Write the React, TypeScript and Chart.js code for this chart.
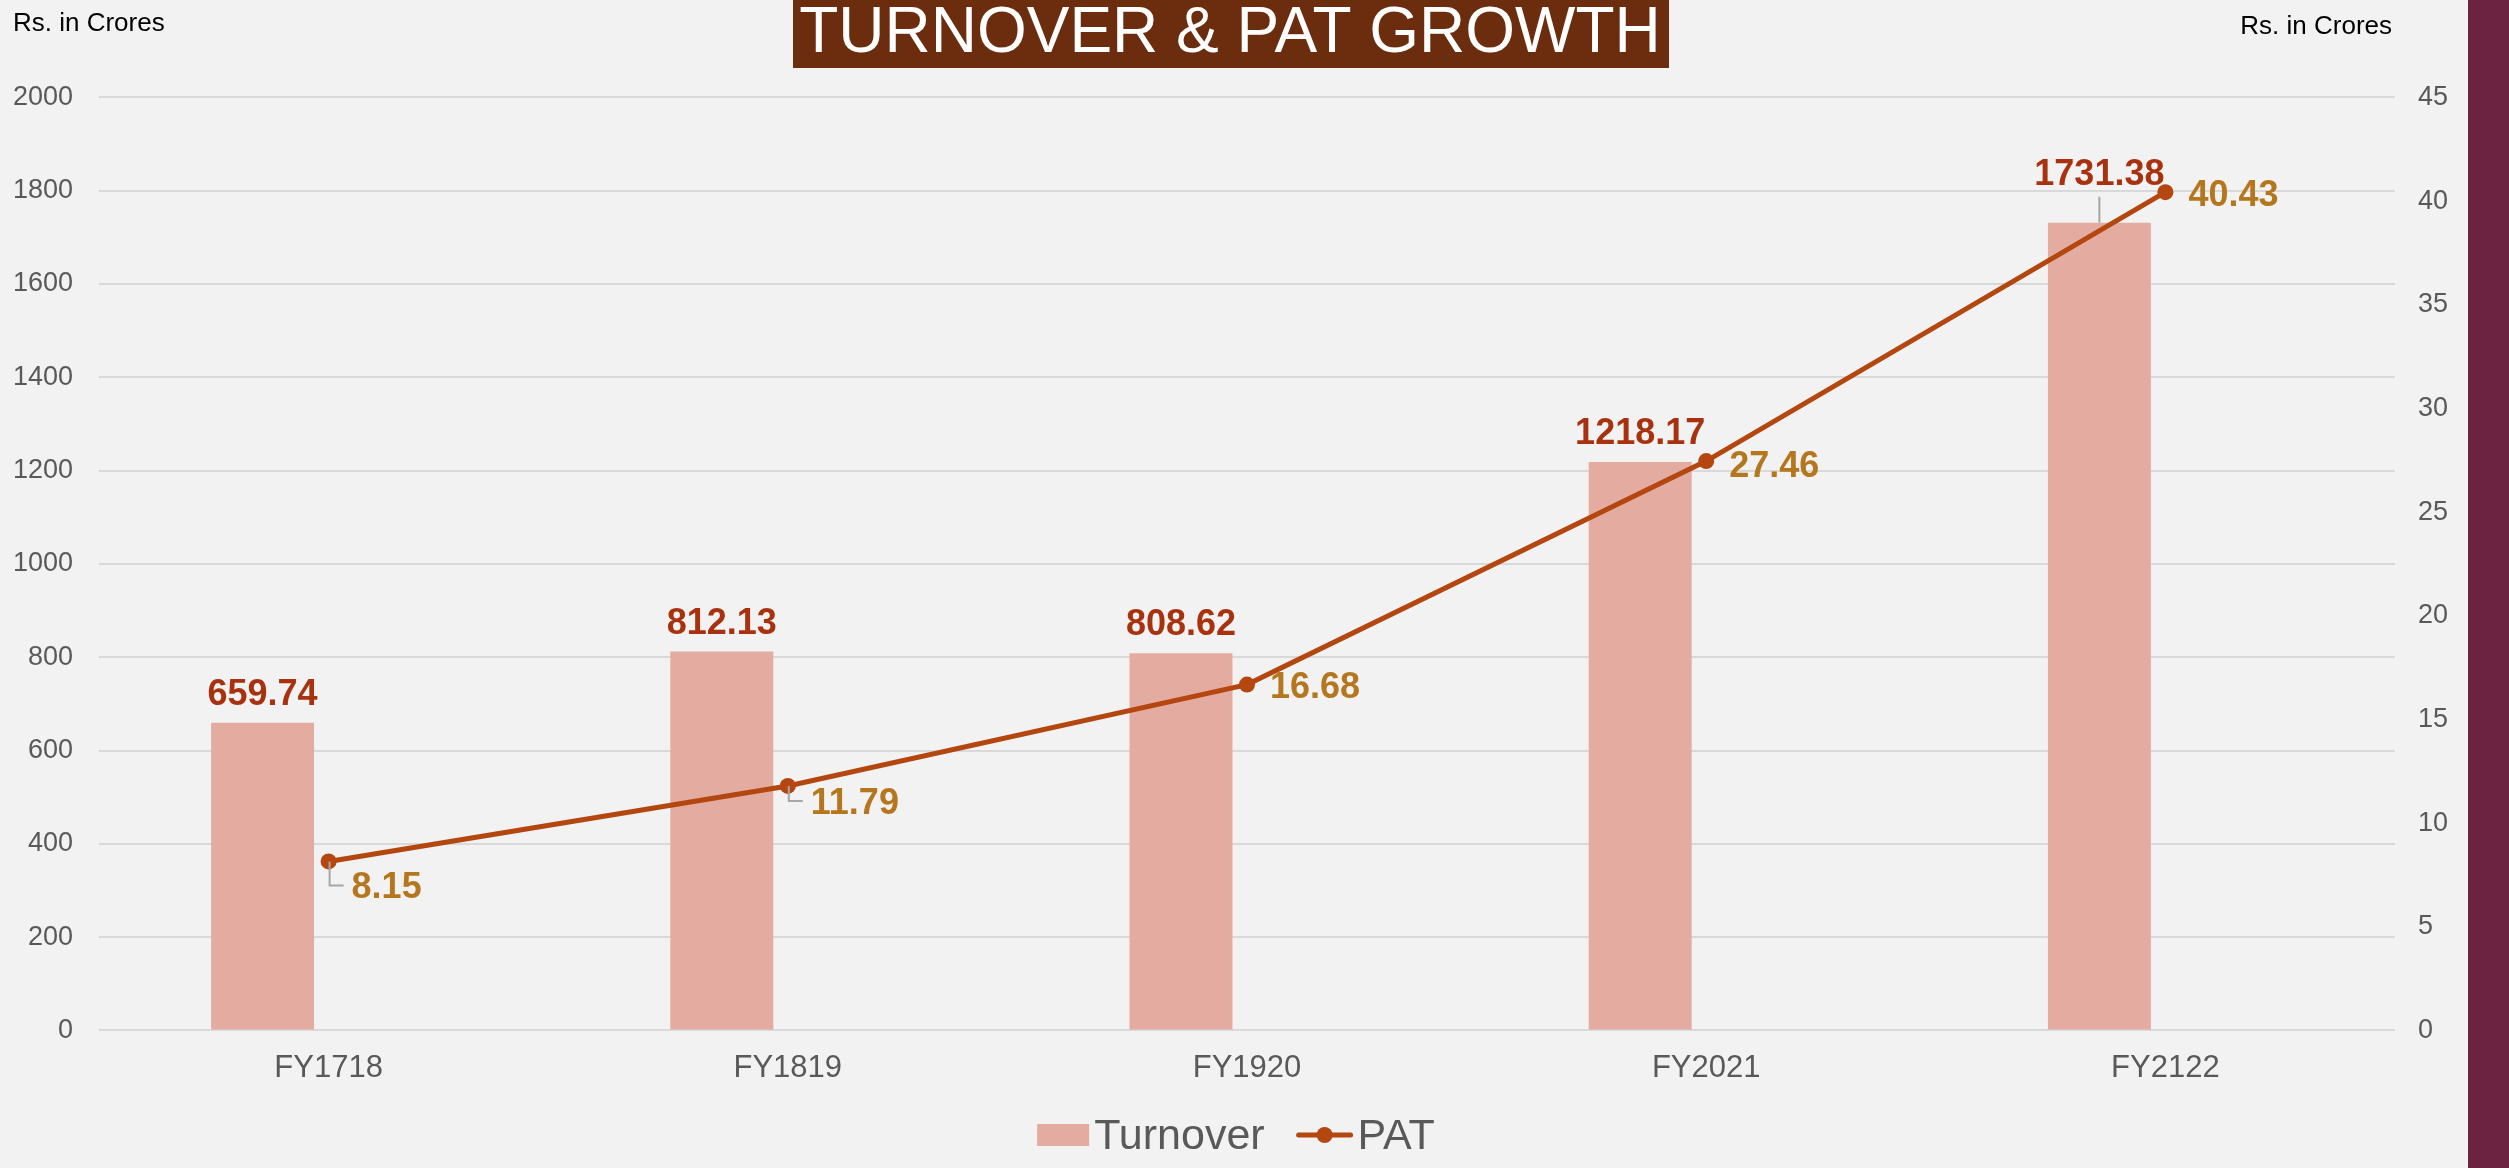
import React, { useEffect, useRef } from 'react';
import { Chart, registerables } from 'chart.js';

Chart.register(...registerables);

// ---- data ----
const categories = ['FY1718', 'FY1819', 'FY1920', 'FY2021', 'FY2122'];
const turnover = [659.74, 812.13, 808.62, 1218.17, 1731.38];
const pat = [8.15, 11.79, 16.68, 27.46, 40.43];
const leftAxisRange = [0, 2000];
const leftAxisStep = 200;
const rightAxisRange = [0, 45];
const rightAxisStep = 5;
const seriesNames = ['Turnover', 'PAT'];
const titleText = 'TURNOVER & PAT GROWTH';
const unitText = 'Rs. in Crores';

// ---- label placement tweaks (not data) ----
const turnoverLabelLift = [0, 0, 0, 0, 20];
const patLabelDrop = [24, 15, 0, 3, 1];

const W = 2509;
const H = 1168;
const FONT = '"Liberation Sans", Arial, Helvetica, sans-serif';
const BG = '#F2F2F2';
const BAR = '#E4ACA1';
const LINE = '#B4470F';
const TURN_LBL = '#A8320F';
const PAT_LBL = '#B4771E';
const TICK = '#595959';
const GRID = '#D9D9D9';
const LEADER = '#A6A6A6';

const decorPlugin = {
  id: 'decor',
  beforeDraw(chart: any) {
    const ctx = chart.ctx;
    ctx.save();
    ctx.fillStyle = BG;
    ctx.fillRect(0, 0, chart.width, chart.height);
    ctx.restore();
  },
  afterDatasetsDraw(chart: any) {
    const ctx = chart.ctx;
    ctx.save();
    // Turnover labels
    const barMeta = chart.getDatasetMeta(0);
    ctx.font = `bold 36px ${FONT}`;
    ctx.textAlign = 'center';
    ctx.textBaseline = 'alphabetic';
    barMeta.data.forEach((bar: any, i: number) => {
      const lift = turnoverLabelLift[i] || 0;
      const baseY = bar.y - 18 - lift;
      ctx.fillStyle = TURN_LBL;
      ctx.fillText(turnover[i].toFixed(2), bar.x, baseY);
      if (lift > 0) {
        ctx.strokeStyle = LEADER;
        ctx.lineWidth = 2;
        ctx.beginPath();
        ctx.moveTo(bar.x, baseY + 12);
        ctx.lineTo(bar.x, bar.y);
        ctx.stroke();
      }
    });
    // PAT labels
    const lineMeta = chart.getDatasetMeta(2);
    ctx.textAlign = 'left';
    lineMeta.data.forEach((pt: any, i: number) => {
      const drop = patLabelDrop[i] || 0;
      if (drop > 10) {
        ctx.strokeStyle = LEADER;
        ctx.lineWidth = 2;
        ctx.beginPath();
        ctx.moveTo(pt.x + 1, pt.y);
        ctx.lineTo(pt.x + 1, pt.y + drop);
        ctx.lineTo(pt.x + 15, pt.y + drop);
        ctx.stroke();
      }
      ctx.fillStyle = PAT_LBL;
      ctx.fillText(pat[i].toFixed(2), pt.x + 23, pt.y + drop + 13);
    });
    ctx.restore();
  },
  afterDraw(chart: any) {
    const ctx = chart.ctx;
    ctx.save();
    // title box
    ctx.fillStyle = '#6B2D0E';
    ctx.fillRect(793, 0, 876, 68);
    ctx.fillStyle = '#FFFFFF';
    ctx.font = `64px ${FONT}`;
    ctx.textAlign = 'center';
    ctx.textBaseline = 'alphabetic';
    ctx.fillText(titleText, 1230, 52);
    // unit labels
    ctx.fillStyle = '#000000';
    ctx.font = `26px ${FONT}`;
    ctx.textAlign = 'left';
    ctx.fillText(unitText, 13, 31);
    ctx.textAlign = 'right';
    ctx.fillText(unitText, chart.chartArea.right - 3, 34);
    // legend
    ctx.font = `43px ${FONT}`;
    ctx.textAlign = 'left';
    const w1 = ctx.measureText(seriesNames[0]).width;
    const w2 = ctx.measureText(seriesNames[1]).width;
    const total = 52 + 5 + w1 + 32 + 56 + 5 + w2;
    let x = 1236 - total / 2;
    const cy = 1135;
    ctx.fillStyle = BAR;
    ctx.fillRect(x, cy - 11, 52, 22);
    x += 57;
    ctx.fillStyle = TICK;
    ctx.fillText(seriesNames[0], x, 1149);
    x += w1 + 32;
    ctx.strokeStyle = LINE;
    ctx.lineWidth = 5;
    ctx.lineCap = 'round';
    ctx.beginPath();
    ctx.moveTo(x + 2, cy);
    ctx.lineTo(x + 54, cy);
    ctx.stroke();
    ctx.fillStyle = LINE;
    ctx.beginPath();
    ctx.arc(x + 28, cy, 8, 0, Math.PI * 2);
    ctx.fill();
    x += 61;
    ctx.fillStyle = TICK;
    ctx.fillText(seriesNames[1], x, 1149);
    // right band
    ctx.fillStyle = '#6C2341';
    ctx.fillRect(2468, 0, W - 2468, H);
    ctx.restore();
  },
};

export default function App() {
  const ref = useRef<HTMLCanvasElement | null>(null);

  useEffect(() => {
    document.body.style.margin = '0';
    document.body.style.background = BG;
    const canvas = ref.current;
    if (!canvas) return;
    const chart = new Chart(canvas, {
      type: 'bar',
      data: {
        labels: categories,
        datasets: [
          {
            type: 'bar',
            label: seriesNames[0],
            data: turnover,
            backgroundColor: BAR,
            borderWidth: 0,
            yAxisID: 'y',
            categoryPercentage: 0.575,
            barPercentage: 0.78,
            order: 1,
          },
          {
            type: 'bar',
            label: '',
            data: categories.map(() => null),
            backgroundColor: 'rgba(0,0,0,0)',
            yAxisID: 'y',
            categoryPercentage: 0.575,
            barPercentage: 0.78,
            order: 1,
          },
          {
            type: 'line',
            label: seriesNames[1],
            data: pat,
            borderColor: LINE,
            backgroundColor: LINE,
            borderWidth: 5,
            pointRadius: 8,
            pointBorderWidth: 0,
            pointBackgroundColor: LINE,
            yAxisID: 'y1',
            tension: 0,
            order: 0,
          },
        ] as any,
      },
      options: {
        responsive: false,
        animation: false,
        devicePixelRatio: 1,
        layout: { padding: { top: 97.4, left: 0, right: 0, bottom: 0 } },
        plugins: {
          legend: { display: false },
          title: { display: false },
          tooltip: { enabled: false },
        },
        scales: {
          x: {
            grid: { display: false, drawTicks: false },
            border: { display: false },
            ticks: { color: TICK, font: { family: FONT, size: 31 }, padding: 19 },
            afterFit: (s: any) => {
              s.height = 137.6;
            },
          },
          y: {
            position: 'left',
            min: leftAxisRange[0],
            max: leftAxisRange[1],
            ticks: {
              stepSize: leftAxisStep,
              color: TICK,
              font: { family: FONT, size: 27 },
              padding: 26,
              callback: (v: any) => String(v),
            },
            grid: { color: GRID, lineWidth: 2, drawTicks: false },
            border: { display: false },
            afterFit: (s: any) => {
              s.width = 99;
            },
          },
          y1: {
            position: 'right',
            min: rightAxisRange[0],
            max: rightAxisRange[1],
            ticks: {
              stepSize: rightAxisStep,
              color: TICK,
              font: { family: FONT, size: 27 },
              padding: 23,
              callback: (v: any) => String(v),
            },
            grid: { display: false, drawTicks: false },
            border: { display: false },
            afterFit: (s: any) => {
              s.width = 114;
            },
          },
        },
      } as any,
      plugins: [decorPlugin],
    });
    return () => chart.destroy();
  }, []);

  return (
    <div style={{ width: W, height: H, position: 'relative', background: BG }}>
      <canvas ref={ref} width={W} height={H} style={{ display: 'block', width: W, height: H }} />
    </div>
  );
}
